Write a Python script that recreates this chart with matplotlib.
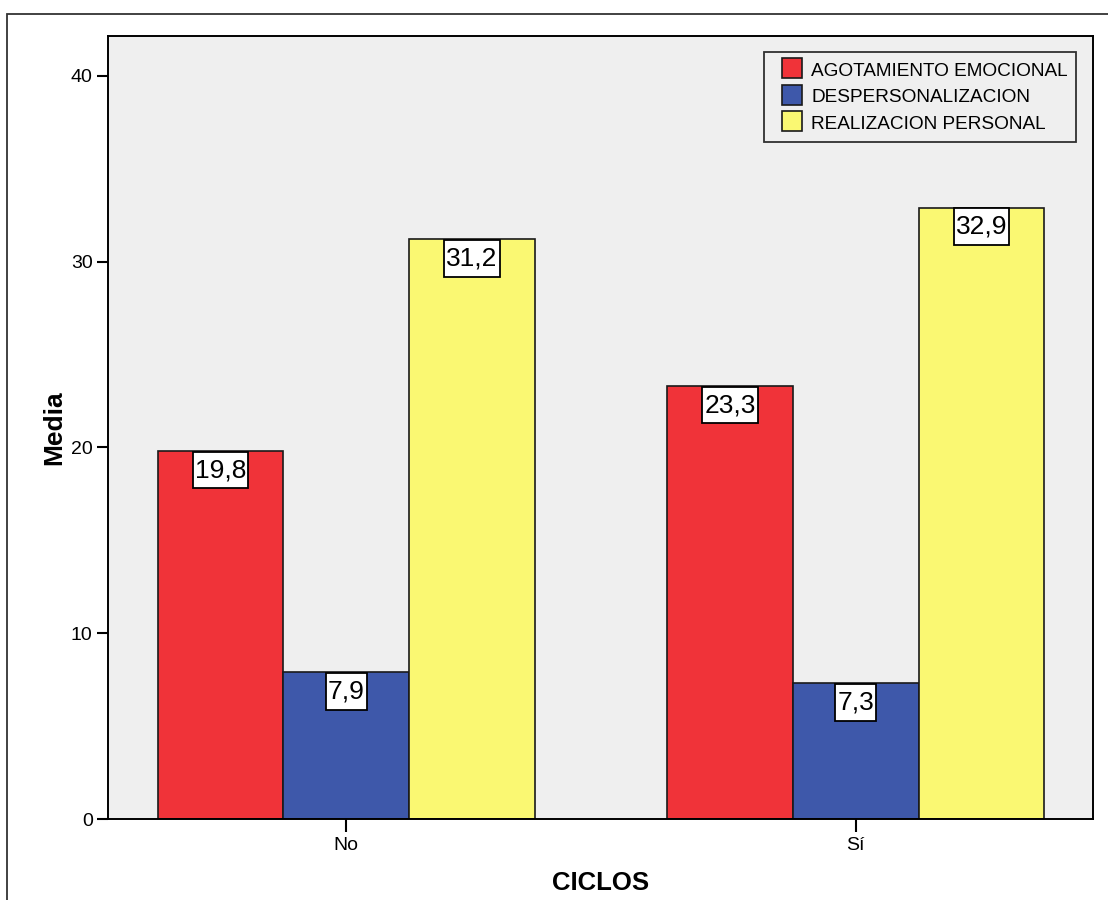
import numpy as np
import matplotlib.pyplot as plt
from matplotlib.patches import Rectangle
from matplotlib.lines import Line2D
from matplotlib.path import Path

plt.rcParams['font.family'] = ['Liberation Sans', 'DejaVu Sans']

categories = ['No', 'Sí']
series = ['AGOTAMIENTO EMOCIONAL', 'DESPERSONALIZACION', 'REALIZACION PERSONAL']
agotamiento = [19.8, 23.3]
despersonalizacion = [7.9, 7.3]
realizacion = [31.2, 32.9]
colors = ['#F03339', '#3E58AA', '#FAF872']


def label_box(x0, y0, width, height, mutation_size):
    # rectangle with more vertical than horizontal padding
    px, py = 0.08 * mutation_size, 0.24 * mutation_size
    return Path([(x0 - px, y0 - py), (x0 + width + px, y0 - py),
                 (x0 + width + px, y0 + height + py), (x0 - px, y0 + height + py),
                 (x0 - px, y0 - py)], closed=True)


W, H = 1108, 900
fig = plt.figure(figsize=(W / 100, H / 100), dpi=100)
# outer chart frame (only top/left visible in the crop)
fig.patches.append(Rectangle((7 / W, -0.1), 1.2, 1 - 14 / H + 0.1,
                             transform=fig.transFigure, fill=False,
                             edgecolor='#333333', linewidth=1.3))

ax = fig.add_axes([108 / W, 1 - 819 / H, (1093 - 108) / W, (819 - 36) / H])
ax.set_facecolor('#EFEFEF')

x = np.arange(len(categories))
width = 0.247
for k, (vals, col) in enumerate(zip([agotamiento, despersonalizacion, realizacion], colors)):
    pos = x + (k - 1) * width
    ax.bar(pos, vals, width, color=col, edgecolor='#1a1a1a', linewidth=1.2, zorder=2)
    for px, v in zip(pos, vals):
        ax.annotate(f'{v:.1f}'.replace('.', ','), (px, v), xytext=(0, -5),
                    textcoords='offset points', ha='center', va='top',
                    fontsize=19, zorder=4,
                    bbox=dict(boxstyle=label_box, facecolor='white',
                              edgecolor='black', linewidth=1.3))

ax.set_xlim(-0.468, 1.466)
ax.set_ylim(0, 42.15)
ax.set_yticks([0, 10, 20, 30, 40])
ax.set_xticks(x)
ax.set_xticklabels(categories)
ax.tick_params(axis='both', labelsize=14, length=8, width=1.5, color='black', pad=3)
ax.tick_params(axis='x', length=9, pad=4)
for s in ax.spines.values():
    s.set_linewidth(1.4)

ax.set_ylabel('Media', fontsize=19, fontweight='bold', labelpad=3)
ax.set_xlabel('CICLOS', fontsize=18.5, fontweight='bold', labelpad=12)

handles = [Line2D([], [], linestyle='None', marker='s', markersize=14.5,
                  markerfacecolor=c, markeredgecolor='#1a1a1a', markeredgewidth=1.2)
           for c in colors]
leg = ax.legend(handles, series, loc='upper right', bbox_to_anchor=(0.983, 0.98),
                fontsize=13.7, frameon=True, fancybox=False, edgecolor='black',
                facecolor='#EFEFEF', handlelength=2.0, handleheight=1.07,
                handletextpad=0.0, labelspacing=0.38, borderpad=0.45,
                borderaxespad=0)
leg.get_frame().set_linewidth(1.3)

fig.savefig('out.png', dpi=100)
